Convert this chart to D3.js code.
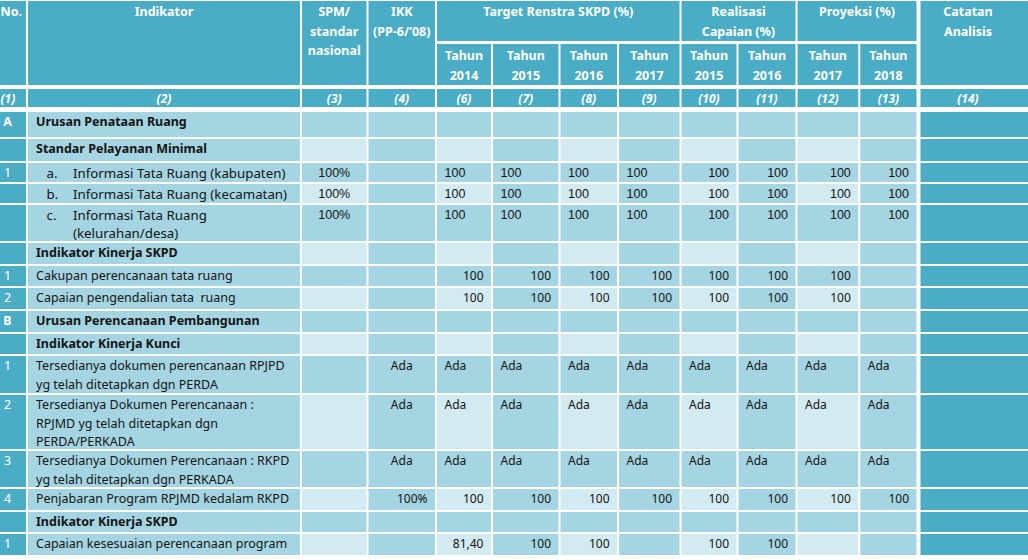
<!DOCTYPE html>
<html><head><meta charset="utf-8">
<script src="https://cdn.jsdelivr.net/npm/d3@7"></script>
<style>html,body{margin:0;padding:0;background:#fff;overflow:hidden}</style>
</head><body><svg id="chart" width="1028" height="560"></svg>
<script>
// ---------- DATA ----------
const rowNumbers = ["A", "", "1", "", "", "", "1", "2", "B", "", "1", "2", "3", "4", "", "1"];
const indikatorLabels = [
  "Urusan Penataan Ruang",
  "Standar Pelayanan Minimal",
  "Informasi Tata Ruang (kabupaten)",
  "Informasi Tata Ruang (kecamatan)",
  "Informasi Tata Ruang\n(kelurahan/desa)",
  "Indikator Kinerja SKPD",
  "Cakupan perencanaan tata ruang",
  "Capaian pengendalian tata  ruang",
  "Urusan Perencanaan Pembangunan",
  "Indikator Kinerja Kunci",
  "Tersedianya dokumen perencanaan RPJPD\nyg telah ditetapkan dgn PERDA",
  "Tersedianya Dokumen Perencanaan :\nRPJMD yg telah ditetapkan dgn\nPERDA/PERKADA",
  "Tersedianya Dokumen Perencanaan : RKPD\nyg telah ditetapkan dgn PERKADA",
  "Penjabaran Program RPJMD kedalam RKPD",
  "Indikator Kinerja SKPD",
  "Capaian kesesuaian perencanaan program"
];
const subLetters = ["", "", "a.", "b.", "c.", "", "", "", "", "", "", "", "", "", "", ""];
const headingRows = [true, true, false, false, false, true, false, false, true, true, false, false, false, false, true, false];

const spmValues  = ["", "", "100%", "100%", "100%", "", "", "", "", "", "", "", "", "", "", ""];
const ikkValues  = ["", "", "", "", "", "", "", "", "", "", "Ada", "Ada", "Ada", "100%", "", ""];
const target2014 = ["", "", "100", "100", "100", "", "100", "100", "", "", "Ada", "Ada", "Ada", "100", "", "81,40"];
const target2015 = ["", "", "100", "100", "100", "", "100", "100", "", "", "Ada", "Ada", "Ada", "100", "", "100"];
const target2016 = ["", "", "100", "100", "100", "", "100", "100", "", "", "Ada", "Ada", "Ada", "100", "", "100"];
const target2017 = ["", "", "100", "100", "100", "", "100", "100", "", "", "Ada", "Ada", "Ada", "100", "", ""];
const real2015   = ["", "", "100", "100", "100", "", "100", "100", "", "", "Ada", "Ada", "Ada", "100", "", "100"];
const real2016   = ["", "", "100", "100", "100", "", "100", "100", "", "", "Ada", "Ada", "Ada", "100", "", "100"];
const proj2017   = ["", "", "100", "100", "100", "", "100", "100", "", "", "Ada", "Ada", "Ada", "100", "", ""];
const proj2018   = ["", "", "100", "100", "100", "", "", "", "", "", "Ada", "Ada", "Ada", "100", "", ""];

const headerLabels = [["No."], ["Indikator"], ["SPM/", "standar", "nasional"], ["IKK", "(PP-6/\u201908)"]];
const groupLabels = [["Target Renstra SKPD (%)"], ["Realisasi", "Capaian (%)"], ["Proyeksi (%)"]];
const yearLabels = ["2014", "2015", "2016", "2017", "2015", "2016", "2017", "2018"];
const catatanLabels = ["Catatan", "Analisis"];
const columnNumbers = ["(1)", "(2)", "(3)", "(4)", "(6)", "(7)", "(8)", "(9)", "(10)", "(11)", "(12)", "(13)", "(14)"];

// ---------- LAYOUT ----------
const colKeys = ["no", "ind", "spm", "ikk", "t2014", "t2015", "t2016", "t2017", "r2015", "r2016", "p2017", "p2018", "cat"];
const colLefts  = [-12, 28, 302, 368.5, 437, 493, 560.5, 619, 681.5, 738.5, 797.5, 860.3, 920.5];
const colRights = [26, 300, 366.5, 435, 491, 558.5, 617, 679.5, 736.5, 795.5, 858.3, 916.5, 1030];
const valueKeys = colKeys.slice(2, 12);
const valueSeries = [spmValues, ikkValues, target2014, target2015, target2016, target2017, real2015, real2016, proj2017, proj2018];
const groupSpans = [[4, 7], [8, 9], [10, 11]];

const rowTops = [112, 139, 163, 184, 205, 243, 266, 288, 311, 334, 356, 395, 451, 489, 512, 534];
const tableBottom = 557;

const C = { dark: "#4BACC6", mid: "#A5D5E2", light: "#D2EAF1", text: "#141414" };
const FONT = "'Noto Sans', 'Open Sans', sans-serif";
const ARIAL = "'Liberation Sans', Arial, sans-serif";
const LABEL_SIZE = 12.5, SUB_SIZE = 13.3, VALUE_SIZE = 12, HEAD_SIZE = 12.5;

const xL = d3.scaleOrdinal(colKeys, colLefts);
const xR = d3.scaleOrdinal(colKeys, colRights);
const xC = k => k === "cat" ? 968 : (xL(k) + xR(k)) / 2;
const rowIdx = d3.range(indikatorLabels.length);
const yT = d3.scaleOrdinal(rowIdx, rowTops);
const yB = d3.scaleOrdinal(rowIdx, rowTops.slice(1).concat(tableBottom).map(v => v - 2));

const svg = d3.select("#chart").style("font-family", FONT);
svg.append("rect").attr("width", 1028).attr("height", 560).attr("fill", "#fff");

// ---------- HEADER ----------
const H = { top: 1, mid: 41, subTop: 44, bottom: 85, numTop: 89, numBottom: 107 };
const head = svg.append("g");
const fullKeys = ["no", "ind", "spm", "ikk", "cat"];
head.selectAll("rect.full").data(fullKeys).join("rect")
  .attr("x", k => xL(k)).attr("y", H.top)
  .attr("width", k => xR(k) - xL(k)).attr("height", H.bottom - H.top).attr("fill", C.dark);
head.selectAll("rect.grp").data(groupSpans).join("rect")
  .attr("x", d => xL(colKeys[d[0]])).attr("y", H.top)
  .attr("width", d => xR(colKeys[d[1]]) - xL(colKeys[d[0]])).attr("height", H.mid - H.top).attr("fill", C.dark);
const subKeys = colKeys.slice(4, 12);
head.selectAll("rect.sub").data(subKeys).join("rect")
  .attr("x", k => xL(k)).attr("y", H.subTop)
  .attr("width", k => xR(k) - xL(k)).attr("height", H.bottom - H.subTop).attr("fill", C.dark);

function lines(g, x, y0, arr, step, attrs) {
  arr.forEach((t, i) => {
    const el = g.append("text").attr("x", x).attr("y", y0 + i * step).text(t);
    Object.entries(attrs).forEach(([a, v]) => el.attr(a, v));
  });
}
const hAttr = { "text-anchor": "middle", "font-size": HEAD_SIZE, "font-weight": "bold", fill: "#fff" };
headerLabels.forEach((lab, i) => {
  if (i === 0) lines(head, 0.5, 16, lab, 19.5, Object.assign({}, hAttr, { "text-anchor": "start" }));
  else lines(head, xC(colKeys[i]), 16, lab, 19.5, hAttr);
});
lines(head, xC("cat"), 16, catatanLabels, 19.5, hAttr);
groupLabels.forEach((lab, i) => {
  const s = groupSpans[i];
  lines(head, (xL(colKeys[s[0]]) + xR(colKeys[s[1]])) / 2, 16, lab, 19.5, hAttr);
});
subKeys.forEach((k, i) => lines(head, xC(k), 59.5, ["Tahun", yearLabels[i]], 20, hAttr));

// numbering row
head.selectAll("rect.num").data(colKeys).join("rect")
  .attr("x", k => xL(k)).attr("y", H.numTop)
  .attr("width", k => xR(k) - xL(k)).attr("height", H.numBottom - H.numTop).attr("fill", C.dark);
head.selectAll("text.num").data(colKeys).join("text")
  .attr("x", (k, i) => i === 0 ? 0.5 : xC(k)).attr("y", 103)
  .attr("text-anchor", (k, i) => i === 0 ? "start" : "middle")
  .attr("font-size", 12).attr("font-weight", "bold")
  .attr("font-style", "italic").attr("fill", "#fff")
  .text((k, i) => columnNumbers[i]);

// ---------- BODY ----------
const body = svg.append("g");
const cells = [];
rowIdx.forEach(r => colKeys.forEach((k, c) => cells.push({ r, c, k })));
function fillOf(d) {
  if (d.c === 0 || d.c === 12) return C.dark;
  if (d.r % 2 === 0) return C.mid;
  return d.c % 2 === 1 ? C.mid : C.light;
}
body.selectAll("rect").data(cells).join("rect")
  .attr("x", d => xL(d.k)).attr("y", d => yT(d.r))
  .attr("width", d => xR(d.k) - xL(d.k)).attr("height", d => yB(d.r) - yT(d.r))
  .attr("fill", fillOf);

const BL = 14.2, LS = 18.5;
// No column
body.selectAll("text.no").data(rowIdx).join("text")
  .attr("x", 7.5).attr("y", r => yT(r) + BL)
  .attr("text-anchor", "middle").attr("font-size", LABEL_SIZE)
  .attr("font-weight", r => headingRows[r] ? "bold" : "normal")
  .attr("fill", "#fff").text(r => rowNumbers[r]);

// Indikator column
rowIdx.forEach(r => {
  const bold = headingRows[r];
  const hasLetter = subLetters[r] !== "";
  const fs = hasLetter ? SUB_SIZE : LABEL_SIZE;
  if (hasLetter) {
    body.append("text").attr("x", 46.5).attr("y", yT(r) + BL + 0.5)
      .attr("font-size", fs).attr("fill", C.text).text(subLetters[r]);
  }
  lines(body, hasLetter ? 73 : 36, yT(r) + BL + (hasLetter ? 0.5 : 0), indikatorLabels[r].split("\n"), LS,
    { "font-size": fs, "font-weight": bold ? "bold" : "normal", fill: C.text, "xml:space": "preserve" });
});

// value columns
function anchorFor(key, r, v) {
  if (key === "spm") return "middle";
  if (v === "Ada") return key === "ikk" ? "middle" : "start";
  if (spmValues[r] !== "") return key.charAt(0) === "t" ? "start" : "end";
  return "end";
}
const vals = [];
valueKeys.forEach((k, i) => rowIdx.forEach(r => {
  const v = valueSeries[i][r];
  if (v !== "") vals.push({ k, r, v, a: anchorFor(k, r, v), arial: spmValues[r] !== "" });
}));
body.selectAll("text.val").data(vals).join("text")
  .attr("x", d => d.a === "start" ? xL(d.k) + 7.5 : d.a === "end" ? xR(d.k) - 7.5 : xC(d.k))
  .attr("y", d => yT(d.r) + BL)
  .attr("text-anchor", d => d.a)
  .attr("font-family", d => d.arial ? ARIAL : null)
  .attr("font-size", d => d.arial ? 12.5 : VALUE_SIZE).attr("fill", C.text)
  .text(d => d.v);
</script></body></html>
